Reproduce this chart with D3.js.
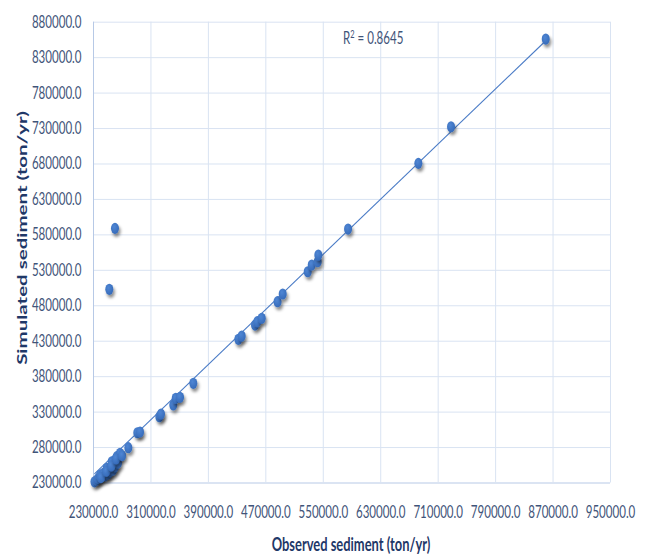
<!DOCTYPE html>
<html>
<head>
<meta charset="utf-8">
<script src="https://cdn.jsdelivr.net/npm/d3@7"></script>
<style>
  body { margin: 0; background: #fff; }
  svg { display: block; }
</style>
</head>
<body>
<svg id="chart" width="647" height="555"></svg>
<script>
// Observed vs simulated annual sediment load (ton/yr)
const observed = [
  232000, 235200, 237400, 239800, 244400, 246700, 249100, 250900, 253700, 256000,
  257900, 260600, 263000, 264800, 267600, 241000, 248500, 255500, 262000, 270500,
  252700, 260600,
  279200, 291700, 295500, 322400, 324700, 341800, 345200, 351200, 369700,
  432400, 437100, 455600, 458800, 465000, 487000, 494200,
  529000, 534600, 542900, 543800, 585200, 683100, 728600, 860500
];
const simulated = [
  231000, 233500, 235900, 240600, 243000, 239200, 250000, 242000, 245200, 259300,
  247600, 252300, 266400, 257500, 271200, 237000, 246000, 253500, 263500, 268000,
  502500, 588500,
  279100, 300200, 301200, 322800, 326600, 339300, 348800, 350200, 369900,
  432000, 436600, 452100, 456800, 461600, 485000, 495900,
  527300, 536800, 541400, 550900, 587500, 680200, 731800, 855500
];

const xTicks = [230000, 310000, 390000, 470000, 550000, 630000, 710000, 790000, 870000, 950000];
const yTicks = [230000, 280000, 330000, 380000, 430000, 480000, 530000, 580000,
                630000, 680000, 730000, 780000, 830000, 880000];

// Linear trendline y = trendSlope * x + trendIntercept
const trendSlope = 0.972;
const trendIntercept = 16700;
const rSquared = "0.8645";

const xTitle = "Observed sediment (ton/yr)";
const yTitle = "Simulated sediment (ton/yr)";

const points = observed.map((o, i) => ({ o, s: simulated[i] }));

const svg = d3.select("#chart");
const plot = { left: 93, right: 610, top: 21.7, bottom: 482.5 };
const narrow = 0.68; // horizontal condensing of glyphs

const x = d3.scaleLinear().domain([230000, 950000]).range([plot.left, plot.right]);
const y = d3.scaleLinear().domain([230000, 880000]).range([plot.bottom, plot.top]);

const tickColor = "#3f5479";
const titleColor = "#1f3868";
const gridColor = "#d9e3f2";
const axisLineColor = "#b7c9e6";
const font = "Lato, 'Open Sans', 'Liberation Sans', sans-serif";

const defs = svg.append("defs");
const shadow = defs.append("filter").attr("id", "markerShadow")
  .attr("x", "-100%").attr("y", "-100%").attr("width", "300%").attr("height", "300%");
shadow.append("feDropShadow")
  .attr("dx", 1.5).attr("dy", 3).attr("stdDeviation", 1.4)
  .attr("flood-color", "#000").attr("flood-opacity", 0.45);

const grad = defs.append("radialGradient").attr("id", "markerFill")
  .attr("cx", "40%").attr("cy", "35%").attr("r", "70%");
grad.append("stop").attr("offset", "0%").attr("stop-color", "#4f86d4");
grad.append("stop").attr("offset", "100%").attr("stop-color", "#3469b8");

// Y axis with horizontal gridlines
const yAxis = svg.append("g")
  .attr("transform", `translate(${plot.left},0)`)
  .call(d3.axisLeft(y).tickValues(yTicks).tickFormat(d3.format(".1f"))
    .tickSizeInner(-(plot.right - plot.left)).tickSizeOuter(0).tickPadding(0));
yAxis.select(".domain").remove();
yAxis.selectAll(".tick line")
  .attr("stroke", d => d === yTicks[0] ? axisLineColor : gridColor).attr("stroke-width", 1);
yAxis.selectAll(".tick text")
  .attr("x", -11.5 / narrow)
  .attr("transform", `scale(${narrow},1)`)
  .attr("fill", tickColor)
  .style("font-family", font).style("font-size", "17px");

// X axis with vertical gridlines
const xAxis = svg.append("g")
  .attr("transform", `translate(0,${plot.bottom})`)
  .call(d3.axisBottom(x).tickValues(xTicks).tickFormat(d3.format(".1f"))
    .tickSizeInner(-(plot.bottom - plot.top)).tickSizeOuter(0).tickPadding(23));
xAxis.select(".domain").remove();
xAxis.selectAll(".tick line")
  .attr("stroke", d => d === xTicks[0] ? axisLineColor : gridColor).attr("stroke-width", 1);
xAxis.selectAll(".tick text")
  .attr("x", 0)
  .attr("transform", `scale(${narrow},1)`)
  .attr("fill", tickColor)
  .style("font-family", font).style("font-size", "17px");

// Trendline across the observed range
const xMin = d3.min(observed), xMax = d3.max(observed);
svg.append("line")
  .attr("x1", x(xMin)).attr("y1", y(trendSlope * xMin + trendIntercept))
  .attr("x2", x(xMax)).attr("y2", y(trendSlope * xMax + trendIntercept))
  .attr("stroke", "#4a7bc6").attr("stroke-width", 1.1);

// Markers
svg.append("g").selectAll("ellipse")
  .data(points)
  .join("ellipse")
  .attr("cx", d => x(d.o))
  .attr("cy", d => y(d.s))
  .attr("rx", 4)
  .attr("ry", 5.6)
  .attr("fill", "url(#markerFill)")
  .attr("filter", "url(#markerShadow)");

// R² annotation
const r2 = svg.append("text")
  .attr("transform", `translate(343,44) scale(${narrow},1)`)
  .attr("fill", tickColor)
  .style("font-family", font).style("font-size", "17px");
r2.append("tspan").text("R");
r2.append("tspan").attr("dy", -6).style("font-size", "11px").text("2");
r2.append("tspan").attr("dy", 6).text(" = " + rSquared);

// Axis titles
svg.append("text")
  .attr("transform", `translate(351,551) scale(${narrow},1)`)
  .attr("text-anchor", "middle")
  .attr("fill", titleColor)
  .style("font-family", font).style("font-size", "19px").style("font-weight", "bold")
  .text(xTitle);

svg.append("text")
  .attr("transform", `translate(27,238) scale(${narrow},1) rotate(-90)`)
  .attr("text-anchor", "middle")
  .attr("fill", titleColor)
  .style("font-family", font).style("font-size", "20.5px").style("font-weight", "bold")
  .text(yTitle);
</script>
</body>
</html>
